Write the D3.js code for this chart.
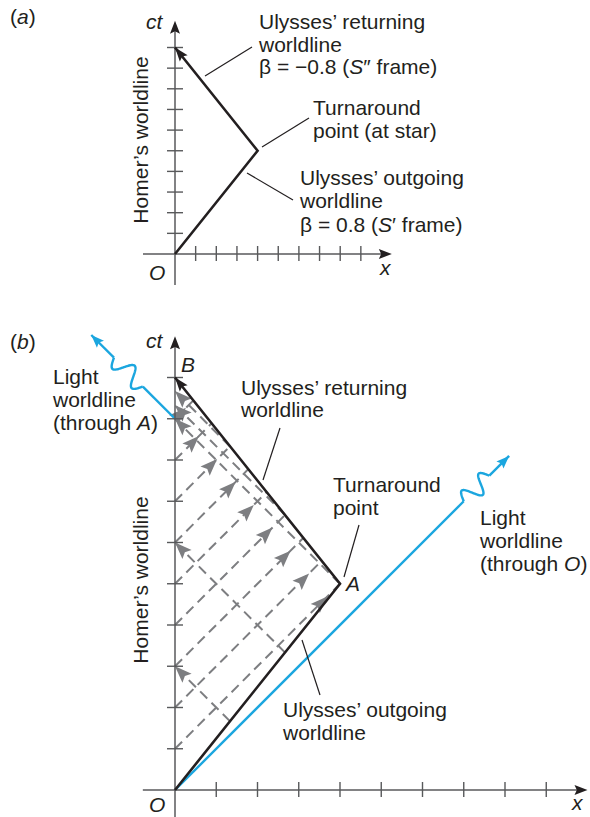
<!DOCTYPE html>
<html>
<head>
<meta charset="utf-8">
<script src="https://cdn.jsdelivr.net/npm/d3@7/dist/d3.min.js"></script>
<style>
  body { margin: 0; background: #fff; }
  svg { display: block; }
  text { font-family: "Liberation Sans", Arial, sans-serif; font-size: 21px; fill: #231f20; }
</style>
</head>
<body>
<svg id="chart" width="590" height="817"></svg>
<script>
// ---- data (units of ct and x, light-years / years) ----
const xTicksA = [1, 2, 3, 4, 5, 6, 7, 8, 9];
const yTicksA = [1, 2, 3, 4, 5, 6, 7, 8, 9, 10];
const xTicksB = [1, 2, 3, 4, 5, 6, 7, 8, 9];
const yTicksB = [1, 2, 3, 4, 5, 6, 7, 8, 9, 10];

// Ulysses' trip: out to the star and back
const outgoing = [[0, 0], [4, 5]];
const returning = [[4, 5], [0, 10]];

// Homer's signals: [ct emitted on Homer's line, x received, ct received]
const homerSignals = [
  [1, 4.00, 5.00], [2, 3.56, 5.56], [3, 3.11, 6.11], [4, 2.67, 6.67],
  [5, 2.22, 7.22], [6, 1.78, 7.78], [7, 1.33, 8.33], [8, 0.89, 8.89],
  [9, 0.44, 9.44]
];
// Ulysses' signals: [x emitted, ct emitted, ct received by Homer]
const ulyssesSignals = [
  [1.33, 1.67, 3.00], [2.67, 3.33, 6.00], [4.00, 5.00, 9.00],
  [2.67, 6.67, 9.33], [1.33, 8.33, 9.67]
];

// light worldlines: start, wiggle start, wiggle end, arrow tip
const lightThroughO = [[0, 0], [7.0, 7.0], [7.62, 7.62], [8.1, 8.1]];
const lightThroughA = [[0, 9], [-0.78, 9.78], [-1.48, 10.48], [-2.03, 11.03]];

const svg = d3.select("#chart");
const ink = "#231f20";
const axisCol = "#58595b";
const sigCol = "#7d7e81";
const blue = "#1ba6df";

// ---- helpers ----
function arrowHead(g, tip, from, len, hw, color) {
  const dx = tip[0] - from[0], dy = tip[1] - from[1];
  const d = Math.hypot(dx, dy);
  const ux = dx / d, uy = dy / d;
  const bx = tip[0] - ux * len, by = tip[1] - uy * len;
  const pts = [
    tip,
    [bx - uy * hw, by + ux * hw],
    [tip[0] - ux * len * 0.82, tip[1] - uy * len * 0.82],
    [bx + uy * hw, by - ux * hw]
  ];
  g.append("path")
    .attr("d", "M" + pts.map(p => p.join(",")).join("L") + "Z")
    .attr("fill", color);
}

function seg(g, p, q, color, width, dash) {
  const l = g.append("line")
    .attr("x1", p[0]).attr("y1", p[1])
    .attr("x2", q[0]).attr("y2", q[1])
    .attr("stroke", color).attr("stroke-width", width);
  if (dash) l.attr("stroke-dasharray", dash);
  return l;
}

function drawAxes(g, x, y, xTicks, yTicks, xExt, yExt) {
  const ox = x(0), oy = y(0);
  seg(g, [x(xExt[0]), oy], [x(xExt[1]) - 6, oy], axisCol, 1.5);
  seg(g, [ox, y(yExt[0])], [ox, y(yExt[1]) + 6], axisCol, 1.5);
  xTicks.forEach(t => seg(g, [x(t), oy - 8], [x(t), oy + 7], axisCol, 1.4));
  yTicks.forEach(t => seg(g, [ox - 8, y(t)], [ox + 8, y(t)], axisCol, 1.4));
  arrowHead(g, [x(xExt[1]), oy], [x(0), oy], 13, 5, ink);
  arrowHead(g, [ox, y(yExt[1])], [ox, oy], 13, 5, ink);
}

function italicLabel(g, x, y, s) {
  g.append("text").attr("x", x).attr("y", y).style("font-style", "italic").text(s);
}

function textLines(g, x, y0, lines, dy) {
  lines.forEach((parts, i) => {
    const t = g.append("text").attr("x", x).attr("y", y0 + i * dy);
    parts.forEach(p => {
      const s = t.append("tspan").text(p.t);
      if (p.i) s.style("font-style", "italic");
    });
  });
}

function wigglePath(p, q, amp, cycles) {
  const dx = q[0] - p[0], dy = q[1] - p[1];
  const L = Math.hypot(dx, dy);
  const ux = dx / L, uy = dy / L;
  const pts = d3.range(0, 81).map(i => {
    const s = i / 80;
    const off = amp * Math.sin(2 * Math.PI * cycles * s);
    return [p[0] + dx * s + uy * off, p[1] + dy * s - ux * off];
  });
  return d3.line()(pts);
}

function drawLight(g, x, y, pts) {
  const P = pts.map(d => [x(d[0]), y(d[1])]);
  seg(g, P[0], P[1], blue, 2.4);
  g.append("path").attr("d", wigglePath(P[1], P[2], 9, 1.5))
    .attr("fill", "none").attr("stroke", blue).attr("stroke-width", 2.4)
    .attr("stroke-linejoin", "round");
  seg(g, P[2], P[3], blue, 2.4);
  arrowHead(g, P[3], P[2], 13, 5, blue);
}

// ================= panel (a) =================
const xa = d3.scaleLinear().domain([0, 10]).range([175, 381.5]);
const ya = d3.scaleLinear().domain([0, 10]).range([254, 47.5]);
const ga = svg.append("g");

drawAxes(ga, xa, ya, xTicksA, yTicksA, [-1.55, 10.5], [-1.5, 11.3]);

const wl = d3.line().x(d => xa(d[0])).y(d => ya(d[1]));
ga.append("path").attr("d", wl(outgoing.concat(returning.slice(1))))
  .attr("fill", "none").attr("stroke", ink).attr("stroke-width", 2.6)
  .attr("stroke-linejoin", "miter");
arrowHead(ga, [xa(0), ya(10)], [xa(4), ya(5)], 14, 5, ink);

ga.append("text").attr("x", 10).attr("y", 24).html("(<tspan font-style='italic'>a</tspan>)");
italicLabel(ga, 146, 29, "ct");
italicLabel(ga, 149, 280, "O");
italicLabel(ga, 380, 275, "x");
ga.append("text").attr("transform", "translate(148,140) rotate(-90)")
  .attr("text-anchor", "middle").text("Homer\u2019s worldline");

textLines(ga, 259, 29, [[{t: "Ulysses\u2019 returning"}], [{t: "worldline"}],
  [{t: "\u03b2 = \u22120.8 ("}, {t: "S", i: true}, {t: "\u2033 frame)"}]], 22.5);
textLines(ga, 313, 115, [[{t: "Turnaround"}], [{t: "point (at star)"}]], 23);
textLines(ga, 300, 185, [[{t: "Ulysses\u2019 outgoing"}], [{t: "worldline"}],
  [{t: "\u03b2 = 0.8 ("}, {t: "S", i: true}, {t: "\u2032 frame)"}]], 23.3);

seg(ga, [205, 76], [252, 47], ink, 1.2);
seg(ga, [262, 147], [309, 118], ink, 1.2);
seg(ga, [247, 173], [293, 200], ink, 1.2);

// ================= panel (b) =================
const xb = d3.scaleLinear().domain([0, 10]).range([175, 587.5]);
const yb = d3.scaleLinear().domain([0, 10]).range([790, 377.5]);
const gb = svg.append("g");

// signals between Homer and Ulysses
homerSignals.forEach(s => {
  const p = [xb(0), yb(s[0])], q = [xb(s[1]), yb(s[2])];
  seg(gb, p, q, sigCol, 2, "10,6");
  const L = Math.hypot(q[0] - p[0], q[1] - p[1]);
  const off = Math.min(18, 0.4 * L);
  const tip = [q[0] - (q[0] - p[0]) * off / L, q[1] - (q[1] - p[1]) * off / L];
  arrowHead(gb, tip, p, 17, 6.5, sigCol);
});
ulyssesSignals.forEach(s => {
  const p = [xb(s[0]), yb(s[1])], q = [xb(0), yb(s[2])];
  seg(gb, p, q, sigCol, 2, "10,6");
  arrowHead(gb, q, p, 17, 6.5, sigCol);
});

drawLight(gb, xb, yb, lightThroughO);
drawLight(gb, xb, yb, lightThroughA);

drawAxes(gb, xb, yb, xTicksB, yTicksB, [-0.78, 10.0], [-0.7, 11.0]);

const wlb = d3.line().x(d => xb(d[0])).y(d => yb(d[1]));
gb.append("path").attr("d", wlb(outgoing.concat(returning.slice(1))))
  .attr("fill", "none").attr("stroke", ink).attr("stroke-width", 2.6)
  .attr("stroke-linejoin", "miter");
arrowHead(gb, [xb(0), yb(10)], [xb(4), yb(5)], 14, 5, ink);

gb.append("text").attr("x", 10).attr("y", 349).html("(<tspan font-style='italic'>b</tspan>)");
italicLabel(gb, 146, 348, "ct");
italicLabel(gb, 181, 372, "B");
italicLabel(gb, 346, 591, "A");
italicLabel(gb, 149, 812, "O");
italicLabel(gb, 572, 810, "x");
gb.append("text").attr("transform", "translate(148,580) rotate(-90)")
  .attr("text-anchor", "middle").text("Homer\u2019s worldline");

textLines(gb, 53, 384, [[{t: "Light"}], [{t: "worldline"}], [{t: "(through "}, {t: "A", i: true}, {t: ")"}]], 23);
textLines(gb, 241, 395, [[{t: "Ulysses\u2019 returning"}], [{t: "worldline"}]], 22);
textLines(gb, 333, 492, [[{t: "Turnaround"}], [{t: "point"}]], 23);
textLines(gb, 480, 525, [[{t: "Light"}], [{t: "worldline"}], [{t: "(through "}, {t: "O", i: true}, {t: ")"}]], 23);
textLines(gb, 283, 717, [[{t: "Ulysses\u2019 outgoing"}], [{t: "worldline"}]], 23);

seg(gb, [263, 480], [280, 428], ink, 1.2);
seg(gb, [359, 525], [344, 577], ink, 1.2);
seg(gb, [320, 695], [302, 640], ink, 1.2);
</script>
</body>
</html>
